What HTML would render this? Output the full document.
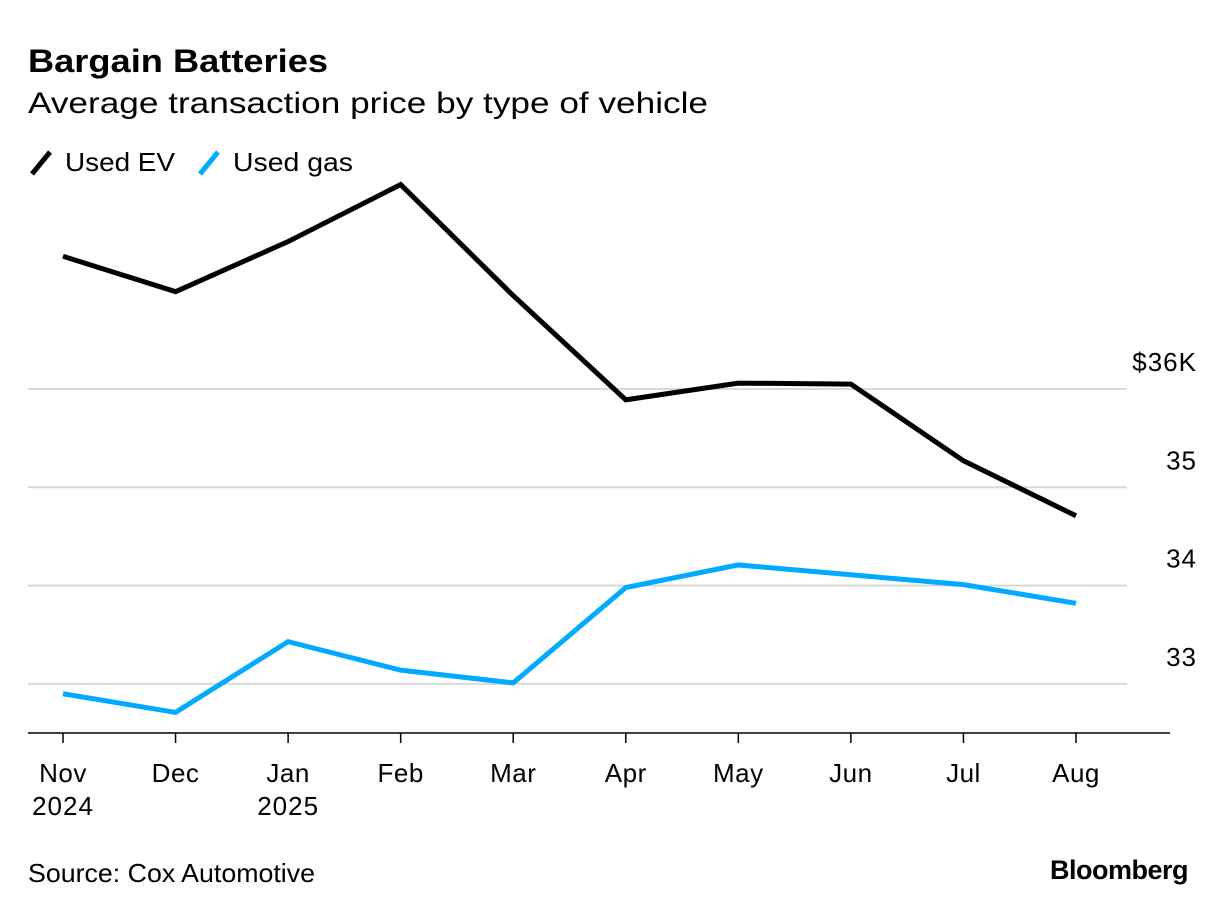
<!DOCTYPE html>
<html><head><meta charset="utf-8"><style>
body{margin:0;background:#fff;width:1226px;height:914px;overflow:hidden;font-family:"Liberation Sans",sans-serif;}
</style></head><body>
<svg width="1226" height="914" xmlns="http://www.w3.org/2000/svg" font-family="Liberation Sans, sans-serif">
<text x="28" y="72" font-size="32" font-weight="bold" fill="#000" textLength="300" lengthAdjust="spacingAndGlyphs">Bargain Batteries</text>
<text x="28" y="113" font-size="30" fill="#000" textLength="680" lengthAdjust="spacingAndGlyphs">Average transaction price by type of vehicle</text>
<g>
<line x1="32" y1="174" x2="50" y2="152" stroke="#000" stroke-width="5"/>
<text x="65" y="171" font-size="26" textLength="110" lengthAdjust="spacingAndGlyphs">Used EV</text>
<line x1="200" y1="174" x2="218" y2="152" stroke="#00aaff" stroke-width="5"/>
<text x="233" y="171" font-size="26" textLength="120" lengthAdjust="spacingAndGlyphs">Used gas</text>
</g>
<g id="grid"></g><g id="xaxis"></g><g id="lines"></g>
<text x="28" y="882" font-size="26" textLength="287" lengthAdjust="spacingAndGlyphs">Source: Cox Automotive</text>
<text x="1188" y="879" font-size="27" font-weight="bold" text-anchor="end" letter-spacing="-0.5">Bloomberg</text>
</svg>
<script>
const months=["Nov","Dec","Jan","Feb","Mar","Apr","May","Jun","Jul","Aug"];
const years=["2024","","2025","","","","","","",""];
const usedEV=[37.35,36.99,37.50,38.08,36.95,35.89,36.06,36.05,35.27,34.71];
const usedGas=[32.90,32.71,33.43,33.14,33.01,33.98,34.21,34.11,34.01,33.82];
const yTicks=[33,34,35,36];
const yTickLabels=["33","34","35","$36K"];
const NS="http://www.w3.org/2000/svg";
function x(i){return 63+i*(1076-63)/(months.length-1);}
function y(v){return 389-(v-36)*98.3;}
function mk(t,a,p){const e=document.createElementNS(NS,t);for(const k in a)e.setAttribute(k,a[k]);p.appendChild(e);return e;}
const grid=document.getElementById('grid');
yTicks.forEach((t,i)=>{
 const l=mk('line',{x1:28,x2:1127,y1:y(t),y2:y(t),stroke:'#d9d9d9','stroke-width':2},grid);
 
 
 const tx=mk('text',{x:1197,y:y(t)-18,'font-size':26,'text-anchor':'end','letter-spacing':'1'},grid);
 tx.textContent=yTickLabels[i];
 
 
});
const xa=document.getElementById('xaxis');
const base=mk('line',{x1:28,x2:1170,y1:733,y2:733,stroke:'#000','stroke-width':1.5},xa);


months.forEach((m,i)=>{
 const tk=mk('line',{x1:x(i),x2:x(i),y1:733,y2:743,stroke:'#000','stroke-width':1.5},xa);
 
 
 const t=mk('text',{x:x(i),y:782,'font-size':26,'text-anchor':'middle','letter-spacing':'0.5'},xa);
 t.textContent=m;
 
 
 if(years[i]){const t2=mk('text',{x:x(i),y:815,'font-size':26,'text-anchor':'middle','letter-spacing':'1'},xa);
 t2.textContent=years[i];
 
 }
});
const lg=document.getElementById('lines');
function draw(vals,col,name){
 const p=mk('polyline',{points:vals.map((v,i)=>x(i)+','+y(v)).join(' '),fill:'none',stroke:col,'stroke-width':5,'stroke-linejoin':'miter'},lg);
 
 
}
draw(usedGas,'#00aaff','used-gas-line');
draw(usedEV,'#000','used-ev-line');
</script>
</body></html>
